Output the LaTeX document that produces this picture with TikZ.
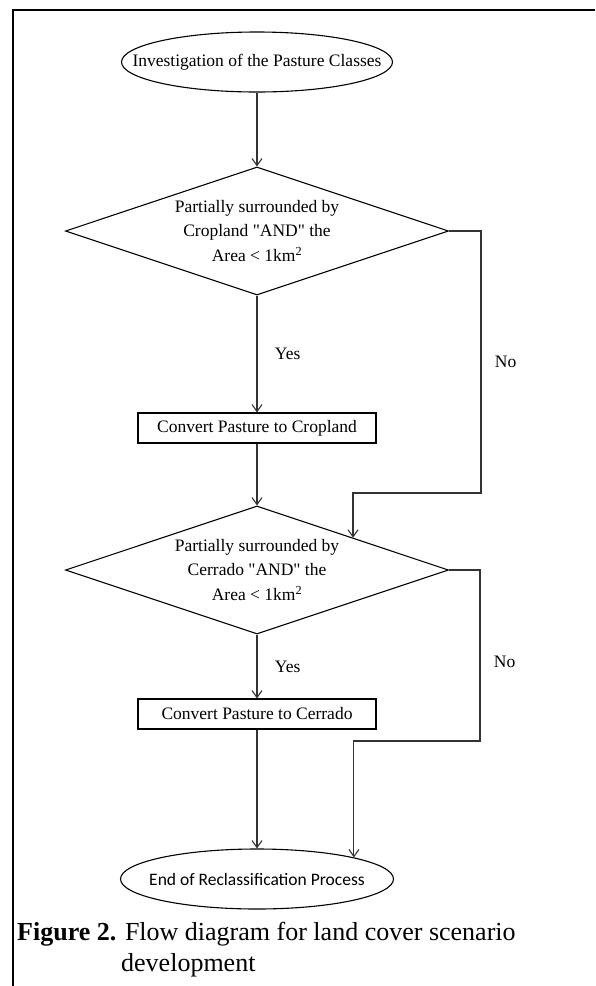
\documentclass[tikz,border=0pt]{standalone}
\usepackage{fontspec}
\setmainfont{Liberation Serif}
\newfontfamily\endfont{Carlito}
\usetikzlibrary{shapes.geometric,arrows.meta}
\tikzset{
    every node/.style={font=\fontsize{17.5}{24.5}\selectfont},
    >={Straight Barb[length=7pt,width=10pt]},
    flow/.style={->, draw=black!80, line width=1.1pt},
    term/.style={draw, ellipse, line width=1.1pt, minimum height=60pt, inner sep=0pt},
    test/.style={draw, diamond, shape aspect=3, line width=1.1pt, minimum width=383pt, minimum height=128pt, inner sep=0pt, align=center},
    task/.style={draw, rectangle, line width=1.1pt, minimum width=238pt, minimum height=30pt, inner sep=0pt}
}
\newcommand{\qAND}{\textquotedbl AND\textquotedbl}
\begin{document}
\begin{tikzpicture}[x=1pt,y=-1pt]
    \useasboundingbox (0,0) rectangle (595,986);
    \draw[line width=2pt] (595,10) -- (13,10) -- (13,986);

    \node[term, minimum width=271pt] (start) at (257,62) {\makebox[0pt]{Investigation of the Pasture Classes}};
    \node[test] (crop) at (257,231) {Partially surrounded by\\Cropland \qAND{} the\\Area < 1km\textsuperscript{2}};
    \node[task] (tocrop) at (257,428) {Convert Pasture to Cropland};
    \node[test] (cerr) at (257,570) {Partially surrounded by\\Cerrado \qAND{} the\\Area < 1km\textsuperscript{2}};
    \node[task] (tocerr) at (257,714) {Convert Pasture to Cerrado};
    \node[term, minimum width=273pt] (stop) at (257,879) {\makebox[0pt]{\endfont End of Reclassification Process}};
    \coordinate (nocrop) at (481,493);
    \coordinate (nocerr) at (480,741);

    \draw[flow] (start) -- (crop);
    \draw[flow] (crop) -- node[right=14pt] {Yes} (tocrop);
    \draw[flow] (tocrop) -- (cerr);
    \draw[flow] (crop.east) -| node[pos=0.75, right=10pt] {No} (nocrop) -| (cerr.north east);
    \draw[flow] (cerr) -- node[right=14pt] {Yes} (tocerr);
    \draw[flow] (tocerr) -- (stop);
    \draw[flow] (cerr.east) -| node[pos=0.77, right=10pt] {No} (nocerr) -| (stop.north east);

    \node[anchor=base west, inner sep=0pt, align=left, font=\fontsize{26}{31}\selectfont] (caption) at (17,971)
        {\textbf{Figure 2.} Flow diagram for land cover scenario\\\hspace*{104pt}development};
\end{tikzpicture}
\end{document}
